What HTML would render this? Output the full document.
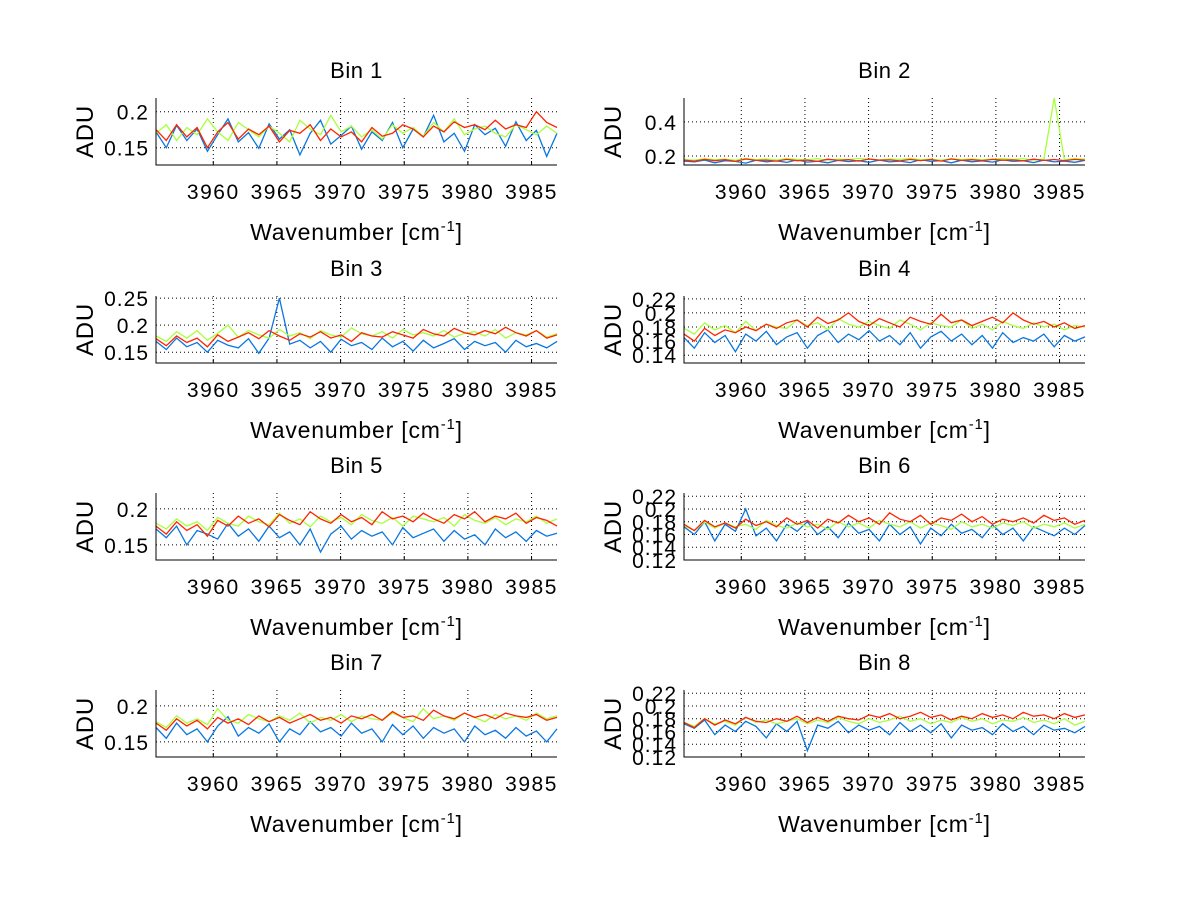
<!DOCTYPE html>
<html><head><meta charset="utf-8"><style>
html,body{margin:0;padding:0;background:#fff;}
svg{display:block;font-family:"Liberation Sans",Arial,sans-serif;}
</style></head><body>
<svg id="fig" width="1200" height="901" viewBox="0 0 1200 901"></svg>
<script>
const binTitles = ["Bin 1","Bin 2","Bin 3","Bin 4","Bin 5","Bin 6","Bin 7","Bin 8"];
const xTicks = [3960,3965,3970,3975,3980,3985];
const wnStart = 3955.5, wnEnd = 3987.0;
const yRanges = [[0.126,0.219],[0.147,0.54],[0.13,0.254],[0.129,0.224],[0.129,0.222],[0.12,0.225],[0.129,0.222],[0.12,0.225]];
const yTicks = [[0.15,0.2],[0.2,0.4],[0.15,0.2,0.25],[0.14,0.16,0.18,0.2,0.22],[0.15,0.2],[0.12,0.14,0.16,0.18,0.2,0.22],[0.15,0.2],[0.12,0.14,0.16,0.18,0.2,0.22]];
const yTickLabels = [["0.15","0.2"],["0.2","0.4"],["0.15","0.2","0.25"],["0.14","0.16","0.18","0.2","0.22"],["0.15","0.2"],["0.12","0.14","0.16","0.18","0.2","0.22"],["0.15","0.2"],["0.12","0.14","0.16","0.18","0.2","0.22"]];
// values in thousandths of ADU, evenly spaced across wavenumber range
const blue = [
[172,150,181,160,176,145,168,190,158,171,149,183,162,175,140,170,188,155,167,180,148,172,160,185,150,176,165,195,158,170,145,182,168,177,152,186,160,174,138,170],
[170,165,176,160,172,168,158,175,166,171,162,177,164,169,160,174,167,172,163,176,165,170,161,178,168,173,160,175,166,171,164,177,168,172,161,176,165,170,163,174],
[170,155,176,160,168,150,172,163,158,175,148,176,250,165,172,158,170,150,174,162,168,155,176,160,170,152,172,158,166,175,155,170,162,168,150,172,160,166,158,170],
[165,150,172,158,168,145,170,160,174,155,166,172,150,168,176,158,170,162,175,160,168,155,172,150,166,174,160,170,155,168,150,172,158,165,160,170,152,168,160,166],
[172,160,176,150,170,165,158,180,162,172,155,176,160,168,150,172,140,165,176,158,170,162,168,150,174,160,166,172,155,170,158,164,150,172,160,168,155,170,162,166],
[172,160,180,150,176,165,200,158,170,150,176,165,180,160,172,155,178,162,168,150,176,160,172,145,170,158,176,162,168,155,175,160,170,150,172,165,158,170,160,174],
[170,155,176,160,168,150,172,185,158,170,162,175,150,168,160,178,164,170,158,176,162,168,150,174,160,172,155,170,162,168,150,172,160,166,155,170,158,165,150,168],
[172,165,178,155,170,160,176,168,150,172,160,176,130,170,165,176,158,170,162,168,155,174,160,170,158,172,150,170,162,166,155,172,160,168,155,170,162,165,158,168]];
const green = [
[170,182,160,178,168,190,172,160,185,175,165,180,170,158,188,176,168,195,172,180,165,175,162,182,170,178,166,185,172,190,168,176,180,170,165,182,175,168,180,170],
[180,176,184,178,182,175,186,179,183,177,185,180,178,184,176,182,179,185,181,177,183,180,186,178,182,176,184,180,183,178,182,185,180,184,176,182,540,178,185,181],
[180,170,188,176,190,172,185,200,178,190,182,176,192,180,186,175,190,182,178,195,184,180,188,176,192,182,186,180,190,178,185,188,180,192,176,186,182,190,178,184],
[178,170,186,176,182,172,188,175,184,180,178,190,182,186,176,192,184,180,188,182,178,190,184,176,186,182,180,190,178,184,176,188,182,178,186,180,184,176,182,180],
[180,172,186,176,182,170,188,180,176,190,182,178,194,180,186,175,190,182,188,178,192,184,180,188,176,190,186,182,188,176,192,184,180,188,178,186,182,190,180,186],
[174,166,180,170,178,172,176,168,182,174,170,178,172,176,168,180,172,178,170,182,176,172,180,170,178,174,168,180,172,176,170,178,174,180,170,176,172,178,170,176],
[178,170,186,176,182,174,196,180,176,188,182,178,186,180,190,176,184,180,188,178,186,182,180,190,184,178,196,182,186,180,190,184,178,188,182,186,180,190,182,186],
[174,168,180,172,176,170,182,174,178,172,176,180,172,178,174,182,176,172,180,174,178,184,176,180,172,178,174,182,176,180,172,178,176,182,174,178,172,180,170,176]];
const red = [
[175,160,182,165,178,150,172,185,162,176,168,180,158,174,170,182,160,176,165,172,158,178,166,170,182,176,165,180,172,186,178,182,175,188,176,182,178,200,185,178],
[175,170,180,172,178,168,182,174,176,170,180,172,176,168,181,174,178,170,182,175,177,171,180,173,179,170,182,174,178,172,180,175,177,171,181,174,179,172,180,176],
[175,162,180,168,176,160,182,170,178,186,175,190,180,172,184,178,188,176,182,170,186,180,178,188,182,176,192,184,180,194,186,182,190,184,196,186,180,190,176,182],
[170,160,178,168,176,172,180,175,184,178,186,190,180,194,185,190,200,188,182,192,186,180,194,188,184,198,186,190,182,188,194,186,200,190,184,188,180,186,178,182],
[176,165,182,170,178,162,184,176,190,180,186,175,192,184,178,196,186,180,192,182,188,178,196,186,190,182,194,186,180,192,186,196,182,190,186,194,180,188,184,176],
[176,166,182,172,178,170,184,174,180,172,186,176,182,170,184,178,190,180,186,176,194,184,180,190,176,186,182,192,180,188,176,184,180,186,178,190,182,186,176,182],
[176,166,182,172,180,168,184,176,182,174,186,178,184,176,182,188,180,184,176,186,182,188,180,192,184,186,180,194,186,182,190,184,188,182,190,186,184,188,180,184],
[174,166,180,170,178,172,182,176,174,180,176,184,174,182,176,184,180,178,186,182,188,180,184,190,182,186,178,184,180,188,182,186,180,190,184,186,180,188,182,186]];
const seriesColors = ["#0a77e0","#a8ff3c","#ff2400"];

const svg = document.getElementById('fig');
const NS = "http://www.w3.org/2000/svg";
function mk(tag, attrs){const e=document.createElementNS(NS,tag);for(const k in attrs)e.setAttribute(k,attrs[k]);return e;}
const colX = [156,684], rowY = [98,296,493,690], W = 401, H = 67;

for(let b=0;b<8;b++){
  const x0 = colX[b%2], y0 = rowY[Math.floor(b/2)];
  const [ymin,ymax] = yRanges[b];
  const sx = v => x0 + (v-wnStart)/(wnEnd-wnStart)*W;
  const sy = v => y0 + H - (v-ymin)/(ymax-ymin)*H;
  const g = mk('g',{});
  
  
  svg.appendChild(g);
  xTicks.forEach(t=>{
    const l=mk('line',{x1:sx(t),x2:sx(t),y1:y0,y2:y0+H,stroke:'#000','stroke-width':1,'stroke-dasharray':'1,3'});
    
    
    g.appendChild(l);
    const tk=mk('line',{x1:sx(t),x2:sx(t),y1:y0+H,y2:y0+H-4,stroke:'#000'});
    
    
    g.appendChild(tk);
    const tx=mk('text',{x:sx(t),y:y0+H+34,'font-size':21,'letter-spacing':'1.5','text-anchor':'middle'});
    tx.textContent=t;
    
    
    g.appendChild(tx);
  });
  yTicks[b].forEach((t,i)=>{
    const l=mk('line',{x1:x0,x2:x0+W,y1:sy(t),y2:sy(t),stroke:'#000','stroke-width':1,'stroke-dasharray':'1,3'});
    
    
    g.appendChild(l);
    const tx=mk('text',{x:x0-7,y:sy(t)+8,'font-size':21,'letter-spacing':'1','text-anchor':'end'});
    tx.textContent=yTickLabels[b][i];
    
    
    g.appendChild(tx);
  });
  [blue[b],green[b],red[b]].forEach((arr,si)=>{
    const n=arr.length;
    const pts=arr.map((v,i)=>sx(wnStart+(wnEnd-wnStart)*i/(n-1)).toFixed(1)+','+sy(v/1000).toFixed(1)).join(' ');
    const p=mk('polyline',{points:pts,fill:'none',stroke:seriesColors[si],'stroke-width':1.3});
    
    
    g.appendChild(p);
  });
  const ax=mk('path',{d:`M${x0} ${y0}V${y0+H}H${x0+W}`,stroke:'#000',fill:'none','stroke-width':1});
  
  
  g.appendChild(ax);
  const ti=mk('text',{x:x0+W/2,y:y0-20,'font-size':22,'letter-spacing':'0.5','text-anchor':'middle'});
  ti.textContent=binTitles[b];
  
  
  g.appendChild(ti);
  const xl=mk('text',{x:x0+W/2,y:y0+H+75,'font-size':23,'letter-spacing':'0.8','text-anchor':'middle'});
  xl.innerHTML='Wavenumber [cm<tspan dy="-9" font-size="15">-1</tspan><tspan dy="9">]</tspan>';
  
  
  g.appendChild(xl);
  const yl=mk('text',{x:0,y:0,'font-size':24,'letter-spacing':'0.8','text-anchor':'middle',transform:`translate(${x0-63},${y0+H/2}) rotate(-90)`});
  yl.textContent='ADU';
  
  
  g.appendChild(yl);
}
</script>
</body></html>
